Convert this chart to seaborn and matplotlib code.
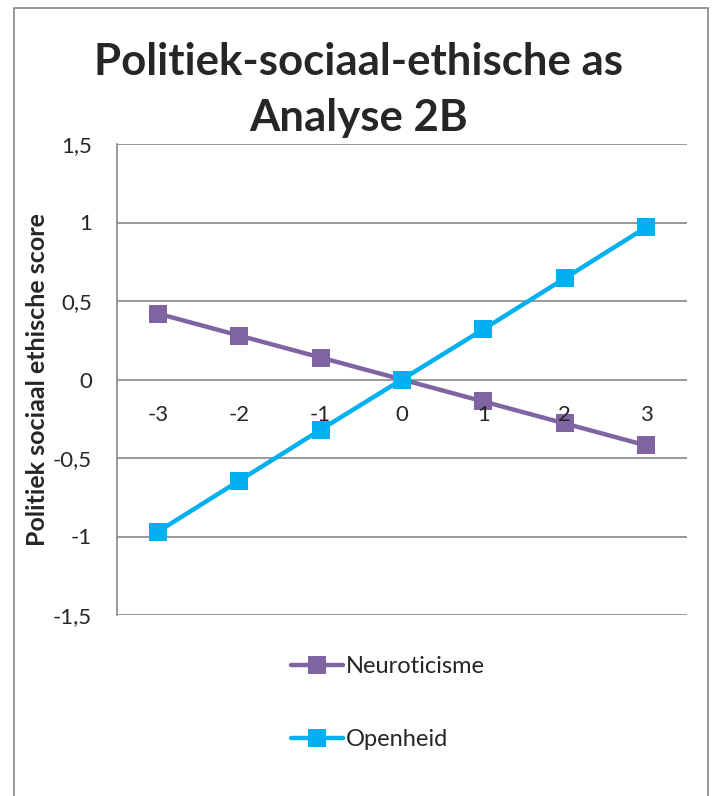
import seaborn as sns
import matplotlib.pyplot as plt
import matplotlib.patches as mpatches
import pandas as pd

# data
x_values = [-3, -2, -1, 0, 1, 2, 3]
neuroticisme = [0.42, 0.28, 0.14, 0.0, -0.14, -0.28, -0.42]
openheid = [-0.97, -0.645, -0.32, 0.0, 0.32, 0.645, 0.97]
y_ticks = [-1.5, -1, -0.5, 0, 0.5, 1, 1.5]

df = pd.DataFrame({
    "x": x_values * 2,
    "score": neuroticisme + openheid,
    "serie": ["Neuroticisme"] * 7 + ["Openheid"] * 7,
})

sns.set_style("white")
plt.rcParams['font.family'] = ['Lato', 'DejaVu Sans']

fig = plt.figure(figsize=(7.18, 7.96), dpi=100)
ax = fig.add_axes([117 / 718, 1 - 615 / 796, 570 / 718, 471 / 796])

palette = {"Neuroticisme": "#8064A2", "Openheid": "#00B0F0"}
sns.lineplot(data=df, x="x", y="score", hue="serie", palette=palette,
             marker="s", markersize=13, markeredgewidth=0, linewidth=3.2,
             ax=ax, legend=False)

ax.set_xlim(-3.5, 3.5)
ax.set_ylim(-1.5, 1.5)
ax.set_yticks(y_ticks)
ax.set_yticklabels([f"{v:g}".replace(".", ",") for v in y_ticks])
ax.set_xticks([])
ax.grid(axis="y", color="#888888", linewidth=1.2)
ax.set_axisbelow(True)

# category labels sit just under the zero line, drawn above the lines
for v in x_values:
    ax.text(v, -0.225, str(v), ha="center", va="center", fontsize=16, zorder=5)

for s in ["top", "right", "bottom"]:
    ax.spines[s].set_visible(False)
ax.spines["left"].set_color("#888888")
ax.spines["left"].set_linewidth(1.2)
ax.tick_params(axis="y", length=0, pad=18, labelsize=16)
ax.set_xlabel("")
ax.set_ylabel("Politiek sociaal ethische score", fontsize=18, fontweight="bold", labelpad=3)

fig.text(0.5, 1 - 62 / 796, "Politiek-sociaal-ethische as", ha="center", va="center",
         fontsize=31.5, fontweight="bold")
fig.text(0.5, 1 - 118 / 796, "Analyse 2B", ha="center", va="center",
         fontsize=31.5, fontweight="bold")

# legend below the plot
handles = [plt.Line2D([], [], color=palette[k], marker="s", markersize=13,
                      markeredgewidth=0, linewidth=3.2) for k in palette]
fig.legend(handles, list(palette), loc="center", bbox_to_anchor=(388 / 718, 1 - 703 / 796),
           frameon=False, fontsize=17, labelspacing=2.2, handlelength=2.2,
           handletextpad=0.1)

# outer chart border
fig.patches.append(mpatches.Rectangle((14 / 718, -0.05), 694 / 718, 1.05 - 8 / 796,
                                      transform=fig.transFigure, fill=False,
                                      edgecolor="#888888", linewidth=1.2))

fig.savefig("out.png", dpi=100)
